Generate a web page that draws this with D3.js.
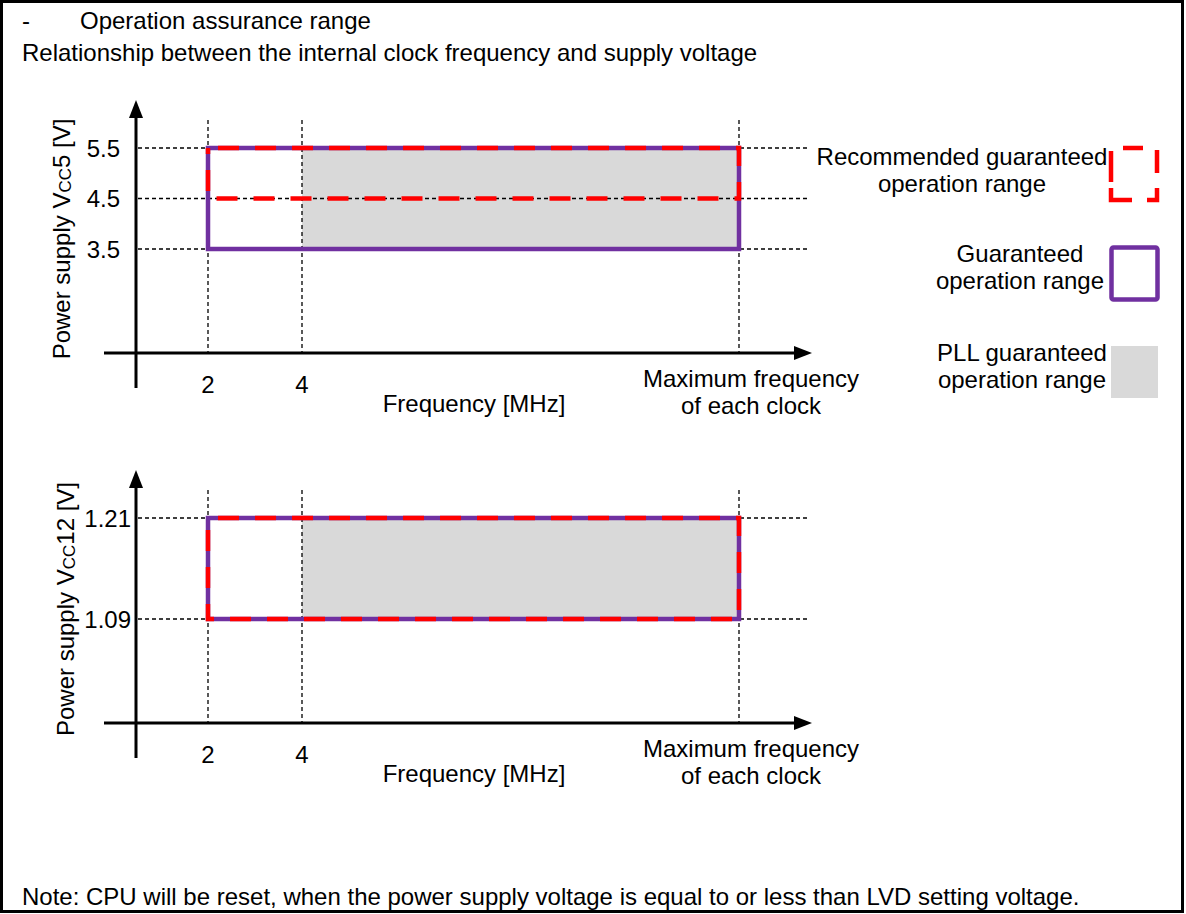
<!DOCTYPE html>
<html>
<head>
<meta charset="utf-8">
<script src="https://cdn.jsdelivr.net/npm/d3@7"></script>
<style>
  html, body { margin: 0; padding: 0; background: #fff; }
  svg text { font-family: "Liberation Sans", Arial, sans-serif; fill: #000; }
</style>
</head>
<body>
<svg id="chart" width="1186" height="914"></svg>
<script>
// ---------------- data ----------------
const titleLines = ["Operation assurance range", "Relationship between the internal clock frequency and supply voltage"];
const noteText = "Note: CPU will be reset, when the power supply voltage is equal to or less than LVD setting voltage.";

// frequency axis (schematic): 2 MHz, 4 MHz, maximum frequency of each clock
const freqTicks = [2, 4];
const freqMaxLabel = ["Maximum frequency", "of each clock"];
const freqAxisTitle = "Frequency [MHz]";

// panel 1 : VCC5
const vcc5Ticks = [3.5, 4.5, 5.5];
const vcc5Guaranteed = [3.5, 5.5];
const vcc5Recommended = [4.5, 5.5];
const vcc5PLL = [3.5, 5.5];
const vcc5Label = ["Power supply V", "CC", "5 [V]"];

// panel 2 : VCC12
const vcc12Ticks = [1.09, 1.21];
const vcc12Guaranteed = [1.09, 1.21];
const vcc12Recommended = [1.09, 1.21];
const vcc12PLL = [1.09, 1.21];
const vcc12Label = ["Power supply V", "CC", "12 [V]"];

// frequency spans [from, to]
const guaranteedFreq = [2, "max"];
const recommendedFreq = [2, "max"];
const pllFreq = [4, "max"];

// legend
const legendItems = [
  { key: "recommended", lines: ["Recommended guaranteed", "operation range"] },
  { key: "guaranteed", lines: ["Guaranteed", "operation range"] },
  { key: "pll", lines: ["PLL guaranteed", "operation range"] }
];

// ---------------- styles ----------------
const PURPLE = "#7030a0", RED = "#ff0000", GRAY = "#d9d9d9";
const FS = 24;

const svg = d3.select("#chart");

// outer border
svg.append("rect").attr("x", 1.5).attr("y", 1.5).attr("width", 1181).attr("height", 910)
  .attr("fill", "none").attr("stroke", "#000").attr("stroke-width", 3);

// title
svg.append("text").attr("x", 22).attr("y", 29).attr("font-size", FS).text("-");
svg.append("text").attr("x", 80).attr("y", 29).attr("font-size", FS).text(titleLines[0]);
svg.append("text").attr("x", 22).attr("y", 61).attr("font-size", FS).text(titleLines[1]);

// note
svg.append("text").attr("x", 22).attr("y", 905).attr("font-size", FS).text(noteText);

// x scale (piecewise, schematic)
const x = d3.scaleLinear().domain([0, 2, 4, 10]).range([136, 208, 302, 739]);
const fx = f => x(f === "max" ? 10 : f);

function panel(top, ticks, guaranteed, recommended, pll, label, labelX, tickX) {
  const g = svg.append("g").attr("transform", `translate(0,${top})`);
  const axisY = 253;              // x-axis position relative to panel top
  const y = d3.scaleLinear().domain([ticks[0], ticks[ticks.length - 1]]).range([149, 48]);
  const gridRight = 810, gridLeft = 138, gridTop = 20;

  // PLL fill
  g.append("rect")
    .attr("x", fx(pllFreq[0])).attr("y", y(pll[1]))
    .attr("width", fx(pllFreq[1]) - fx(pllFreq[0]))
    .attr("height", y(pll[0]) - y(pll[1]))
    .attr("fill", GRAY);

  // horizontal grid lines
  g.selectAll(".hg").data(ticks).enter().append("line")
    .attr("x1", gridLeft).attr("x2", gridRight)
    .attr("y1", d => y(d)).attr("y2", d => y(d))
    .attr("stroke", "#000").attr("stroke-width", 1.3).attr("stroke-dasharray", "4,3");

  // vertical grid lines
  const vlines = freqTicks.concat(["max"]);
  g.selectAll(".vg").data(vlines).enter().append("line")
    .attr("x1", d => fx(d)).attr("x2", d => fx(d))
    .attr("y1", gridTop).attr("y2", axisY)
    .attr("stroke", "#000").attr("stroke-width", 1.3).attr("stroke-dasharray", "4,3");

  // guaranteed range (purple)
  g.append("rect")
    .attr("x", fx(guaranteedFreq[0])).attr("y", y(guaranteed[1]))
    .attr("width", fx(guaranteedFreq[1]) - fx(guaranteedFreq[0]))
    .attr("height", y(guaranteed[0]) - y(guaranteed[1]))
    .attr("fill", "none").attr("stroke", PURPLE).attr("stroke-width", 4.5);

  // recommended range (red dashed)
  g.append("rect")
    .attr("x", fx(recommendedFreq[0])).attr("y", y(recommended[1]))
    .attr("width", fx(recommendedFreq[1]) - fx(recommendedFreq[0]))
    .attr("height", y(recommended[0]) - y(recommended[1]))
    .attr("fill", "none").attr("stroke", RED).attr("stroke-width", 4.5)
    .attr("stroke-dasharray", "21,16").attr("stroke-dashoffset", -10);

  // axes
  g.append("line").attr("x1", 104).attr("x2", 798).attr("y1", axisY).attr("y2", axisY)
    .attr("stroke", "#000").attr("stroke-width", 3);
  g.append("path").attr("d", `M812,${axisY} L794,${axisY - 7} L794,${axisY + 7} Z`).attr("fill", "#000");
  g.append("line").attr("x1", 136).attr("x2", 136).attr("y1", 14).attr("y2", 288)
    .attr("stroke", "#000").attr("stroke-width", 3);
  g.append("path").attr("d", `M136,0 L129,18 L143,18 Z`).attr("fill", "#000");

  // y tick labels
  g.selectAll(".yt").data(ticks).enter().append("text")
    .attr("x", tickX).attr("y", d => y(d)).attr("dy", "0.36em")
    .attr("text-anchor", "end").attr("font-size", FS)
    .text(d => d3.format(".2~f")(d));

  // x tick labels
  g.selectAll(".xt").data(freqTicks).enter().append("text")
    .attr("x", d => fx(d)).attr("y", axisY + 40)
    .attr("text-anchor", "middle").attr("font-size", FS).text(d => d);

  g.selectAll(".xm").data(freqMaxLabel).enter().append("text")
    .attr("x", 751).attr("y", (d, i) => axisY + 34 + i * 27)
    .attr("text-anchor", "middle").attr("font-size", FS).text(d => d);

  g.append("text").attr("x", 474).attr("y", axisY + 59)
    .attr("text-anchor", "middle").attr("font-size", FS).text(freqAxisTitle);

  // y axis title
  const yt = g.append("text")
    .attr("transform", `translate(${labelX},139) rotate(-90)`)
    .attr("text-anchor", "middle").attr("font-size", FS);
  yt.append("tspan").text(label[0]);
  yt.append("tspan").attr("font-size", 17).attr("dy", 1).text(label[1]);
  yt.append("tspan").attr("dy", -1).text(label[2]);
  return g;
}

panel(100, vcc5Ticks, vcc5Guaranteed, vcc5Recommended, vcc5PLL, vcc5Label, 70, 120);
panel(470, vcc12Ticks, vcc12Guaranteed, vcc12Recommended, vcc12PLL, vcc12Label, 74, 131);

// legend
const lg = svg.append("g");
const legendTop = [145, 245, 346];
const legendCenters = [962, 1020, 1022];
const legendBase = [165, 262, 361];
legendItems.forEach((item, i) => {
  const t = legendTop[i];
  if (item.key === "recommended") {
    lg.append("rect").attr("x", 1111).attr("y", t + 3).attr("width", 46).attr("height", 52)
      .attr("fill", "none").attr("stroke", RED).attr("stroke-width", 4.5)
      .attr("stroke-dasharray", "0,12,20,16,23,15,22,15,33,6,31,5");
  } else if (item.key === "guaranteed") {
    lg.append("rect").attr("x", 1111.5).attr("y", t + 2.5).attr("width", 46).attr("height", 52)
      .attr("rx", 2).attr("fill", "none").attr("stroke", PURPLE).attr("stroke-width", 4.5);
  } else {
    lg.append("rect").attr("x", 1111).attr("y", t).attr("width", 47).attr("height", 52)
      .attr("fill", GRAY);
  }
  item.lines.forEach((ln, j) => {
    lg.append("text").attr("x", legendCenters[i]).attr("y", legendBase[i] + j * 27)
      .attr("text-anchor", "middle").attr("font-size", FS).text(ln);
  });
});
</script>
</body>
</html>
